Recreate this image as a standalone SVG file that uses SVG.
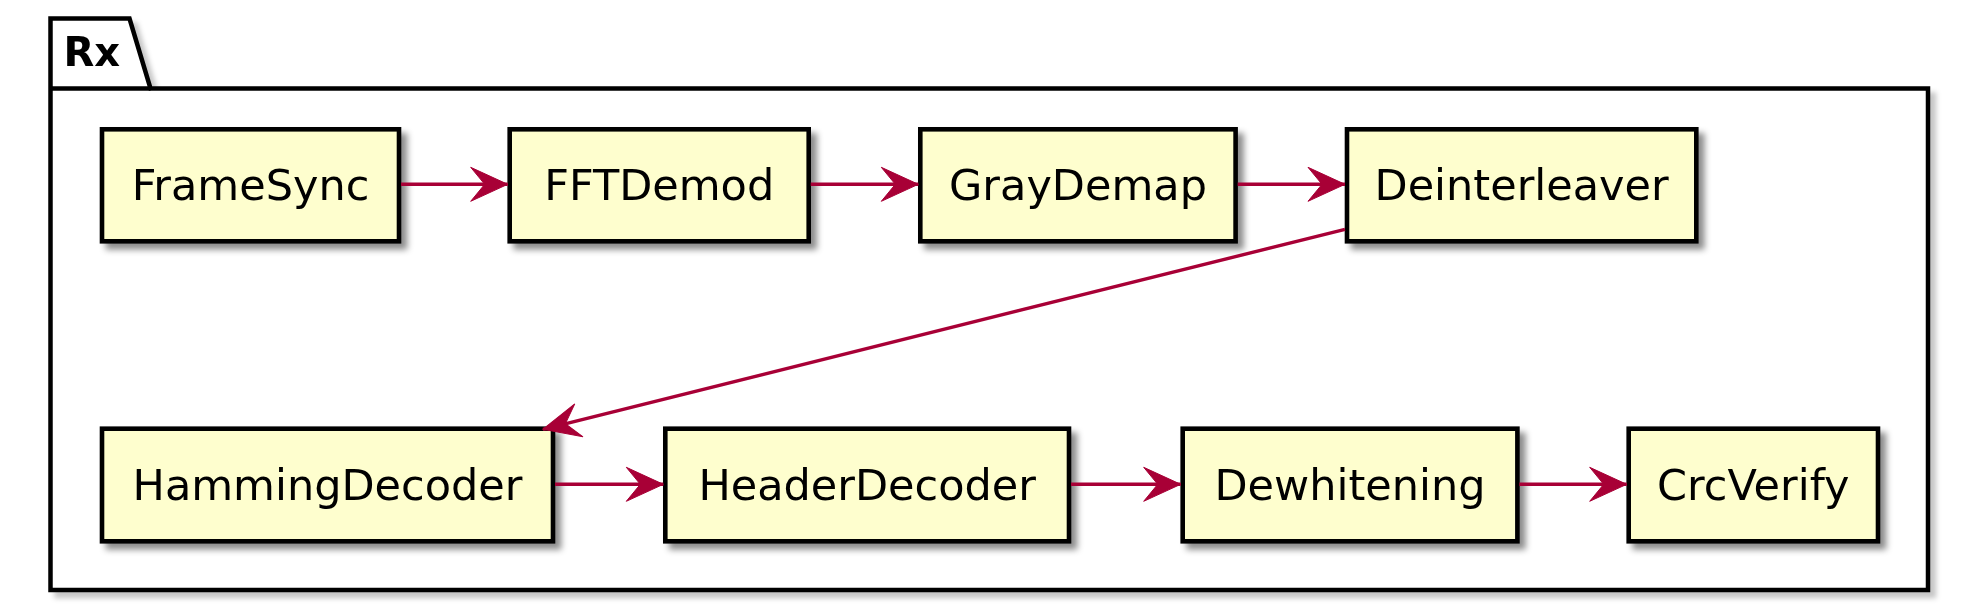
<svg xmlns="http://www.w3.org/2000/svg" width="1978" height="609" viewBox="0 0 1978 609">
<style>
.pkg{fill:#fff;stroke:#000;stroke-width:4.5}
.node rect{fill:#FEFECE;stroke:#000;stroke-width:4.6}
.node text{font-family:"DejaVu Sans",sans-serif;font-size:43px;fill:#000;text-anchor:middle}
.lbl{font-family:"DejaVu Sans",sans-serif;font-size:40px;font-weight:bold;fill:#000}
.edge{stroke:#A80036;stroke-width:3.4;fill:none;marker-end:url(#arr)}
</style>
<defs>
<filter id="sh" x="-10%" y="-10%" width="130%" height="140%">
<feGaussianBlur in="SourceAlpha" stdDeviation="3"/>
<feOffset dx="6" dy="6" result="b"/>
<feFlood flood-color="#000" flood-opacity="0.45"/>
<feComposite in2="b" operator="in"/>
<feMerge><feMergeNode/><feMergeNode in="SourceGraphic"/></feMerge>
</filter>
<filter id="shp" x="-5%" y="-5%" width="110%" height="115%">
<feGaussianBlur in="SourceAlpha" stdDeviation="2.5"/>
<feOffset dx="6" dy="6" result="b"/>
<feFlood flood-color="#000" flood-opacity="0.22"/>
<feComposite in2="b" operator="in"/>
<feMerge><feMergeNode/><feMergeNode in="SourceGraphic"/></feMerge>
</filter>
<marker id="arr" markerUnits="userSpaceOnUse" markerWidth="44" markerHeight="40" viewBox="-40 -20 44 40" refX="0" refY="0" orient="auto">
<path d="M0,0 L-37,-17 L-23,0 L-37,17 Z" fill="#A80036" stroke="#A80036" stroke-width="1" stroke-linejoin="miter"/>
</marker>
</defs>
<g id="Rx" filter="url(#shp)">
<path class="pkg" d="M50.5,88.5 L50.5,18.5 L129.5,18.5 L150.5,88.5 L1928,88.5 L1928,590 L50.5,590 Z"/>
<line x1="50.5" y1="88.5" x2="150.5" y2="88.5" stroke="#000" stroke-width="4.5"/>
<text class="lbl" x="63.5" y="66">Rx</text>
</g>
<g id="FrameSync" class="node" filter="url(#sh)"><rect x="102" y="129.3" width="297" height="112"/><text x="250.5" y="200">FrameSync</text></g>
<g id="FFTDemod" class="node" filter="url(#sh)"><rect x="509.7" y="129.3" width="299" height="112"/><text x="659.2" y="200">FFTDemod</text></g>
<g id="GrayDemap" class="node" filter="url(#sh)"><rect x="920.3" y="129.3" width="315.3" height="112"/><text x="1078" y="200">GrayDemap</text></g>
<g id="Deinterleaver" class="node" filter="url(#sh)"><rect x="1347" y="129.3" width="349.3" height="112"/><text x="1521.6" y="200">Deinterleaver</text></g>
<g id="HammingDecoder" class="node" filter="url(#sh)"><rect x="102" y="428.7" width="451" height="112.6"/><text x="327.5" y="500">HammingDecoder</text></g>
<g id="HeaderDecoder" class="node" filter="url(#sh)"><rect x="665.3" y="428.7" width="403.7" height="112.6"/><text x="867.2" y="500">HeaderDecoder</text></g>
<g id="Dewhitening" class="node" filter="url(#sh)"><rect x="1182.7" y="428.7" width="334.7" height="112.6"/><text x="1350" y="500">Dewhitening</text></g>
<g id="CrcVerify" class="node" filter="url(#sh)"><rect x="1628.7" y="428.7" width="249.3" height="112.6"/><text x="1753.3" y="500">CrcVerify</text></g>
<g id="connectors">
<line class="edge" x1="401" y1="184.3" x2="507.7" y2="184.3"/>
<line class="edge" x1="810.7" y1="184.3" x2="918.3" y2="184.3"/>
<line class="edge" x1="1237.7" y1="184.3" x2="1345" y2="184.3"/>
<line class="edge" x1="1345" y1="229.3" x2="543" y2="429.3"/>
<line class="edge" x1="555" y1="484.3" x2="663.3" y2="484.3"/>
<line class="edge" x1="1071" y1="484.3" x2="1180.7" y2="484.3"/>
<line class="edge" x1="1519.3" y1="484.3" x2="1626.7" y2="484.3"/>
</g>
</svg>
